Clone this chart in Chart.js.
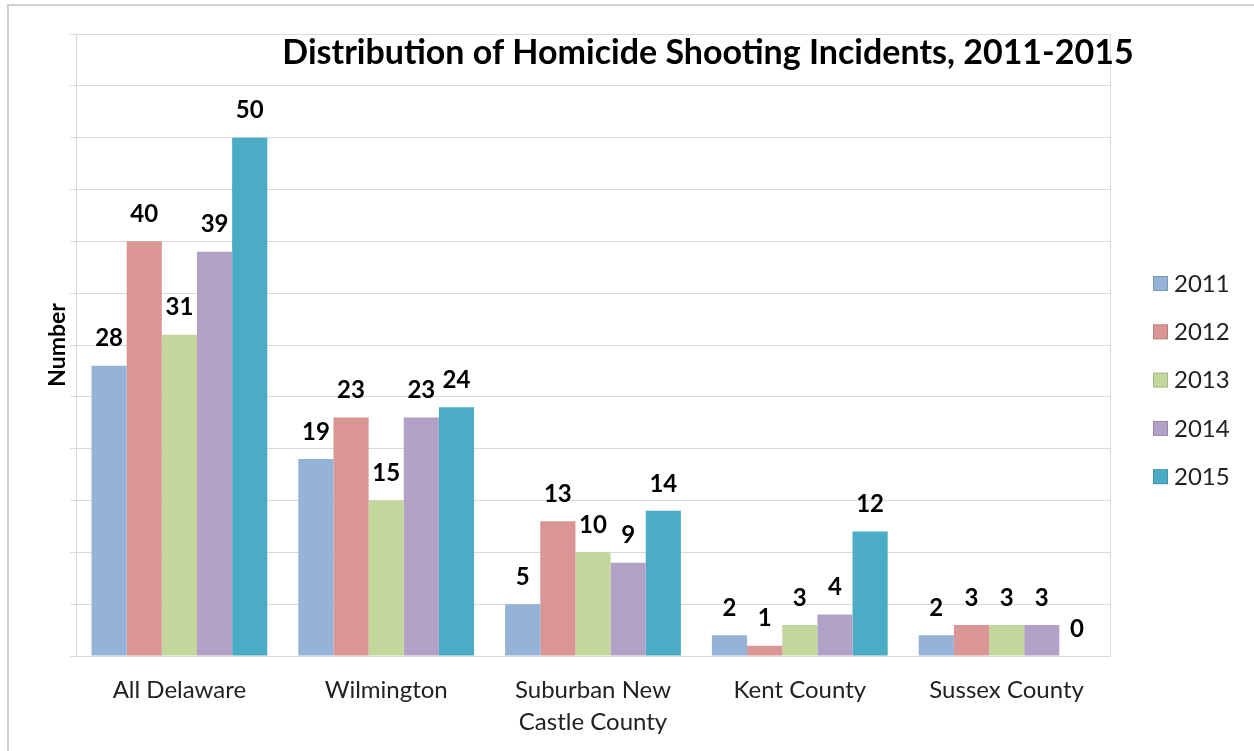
<!DOCTYPE html>
<html lang="en">
<head>
    <meta charset="UTF-8">
    <title>Distribution of Homicide Shooting Incidents, 2011-2015</title>
    <style>
        body {
            margin: 0;
            background: #ffffff;
            font-family: Lato, sans-serif;
        }
        #frame {
            position: absolute;
            left: 7px;
            top: 4px;
            width: 1260px;
            height: 760px;
            border-top: 2px solid #d0d0d0;
            border-left: 2px solid #d0d0d0;
        }
        #wrap {
            position: absolute;
            left: 0;
            top: 0;
            width: 1254px;
            height: 751px;
        }
    </style>
    <script src="https://cdn.jsdelivr.net/npm/chart.js"></script>
</head>
<body>
    <div id="frame"></div>
    <div id="wrap"><canvas id="chart" width="1254" height="751"></canvas></div>

    <script>
        // chart data
        const categories = ['All Delaware', 'Wilmington', ['Suburban New', 'Castle County'], 'Kent County', 'Sussex County'];
        const years = ['2011', '2012', '2013', '2014', '2015'];
        const values2011 = [28, 19, 5, 2, 2];
        const values2012 = [40, 23, 13, 1, 3];
        const values2013 = [31, 15, 10, 3, 3];
        const values2014 = [39, 23, 9, 4, 3];
        const values2015 = [50, 24, 14, 12, 0];
        const colors = ['#95b3d7', '#d99694', '#c3d69b', '#b2a1c7', '#4bacc6'];
        const chartTitle = 'Distribution of Homicide Shooting Incidents, 2011-2015';

        const allValues = [values2011, values2012, values2013, values2014, values2015];

        // value labels above each bar
        const barLabels = {
            id: 'barLabels',
            afterDatasetsDraw(chart) {
                const ctx = chart.ctx;
                ctx.save();
                ctx.font = 'bold 24px Lato';
                ctx.fillStyle = '#000';
                ctx.textAlign = 'center';
                ctx.textBaseline = 'middle';
                chart.data.datasets.forEach((ds, i) => {
                    chart.getDatasetMeta(i).data.forEach((bar, j) => {
                        ctx.fillText(ds.data[j], bar.x, bar.y - 27);
                    });
                });
                ctx.restore();
            }
        };

        // title, plot border and legend
        const extras = {
            id: 'extras',
            afterDraw(chart) {
                const ctx = chart.ctx;
                const a = chart.chartArea;
                ctx.save();
                ctx.strokeStyle = '#d9d9d9';
                ctx.lineWidth = 1;
                ctx.strokeRect(a.left + 0.5, a.top + 0.5, a.right - a.left, a.bottom - a.top);

                ctx.font = 'bold 34px Lato';
                ctx.fillStyle = '#000';
                ctx.textAlign = 'center';
                ctx.textBaseline = 'middle';
                ctx.fillText(chartTitle, 708, 53);

                ctx.font = '24px Lato';
                ctx.textAlign = 'left';
                chart.data.datasets.forEach((ds, i) => {
                    const y = 283 + i * 48.3;
                    ctx.fillStyle = ds.backgroundColor;
                    ctx.fillRect(a.right + 43, y - 7, 15, 15);
                    ctx.strokeStyle = 'rgba(0,0,0,0.15)';
                    ctx.strokeRect(a.right + 43.5, y - 6.5, 14, 14);
                    ctx.fillStyle = '#222';
                    ctx.fillText(ds.label, a.right + 64, y + 1);
                });
                ctx.restore();
            }
        };

        new Chart(document.getElementById('chart'), {
            type: 'bar',
            data: {
                labels: categories,
                datasets: years.map((y, i) => ({
                    label: y,
                    data: allValues[i],
                    backgroundColor: colors[i],
                    barPercentage: 1.0,
                    categoryPercentage: 0.85
                }))
            },
            options: {
                responsive: false,
                animation: false,
                layout: {
                    padding: { top: 34, right: 144, left: 0, bottom: 0 }
                },
                plugins: {
                    legend: { display: false },
                    tooltip: { enabled: false }
                },
                scales: {
                    x: {
                        grid: { display: false, drawTicks: false },
                        border: { display: true, color: '#bfbfbf' },
                        ticks: {
                            color: '#222',
                            font: { family: 'Lato', size: 24, lineHeight: 1.3 },
                            padding: 19,
                            maxRotation: 0
                        },
                        afterFit(scale) { scale.height = 95; }
                    },
                    y: {
                        min: 0,
                        max: 60,
                        ticks: { display: false, stepSize: 5 },
                        grid: { color: '#d9d9d9', tickLength: 6, drawTicks: true },
                        border: { display: true, color: '#bfbfbf' },
                        title: {
                            display: true,
                            text: 'Number',
                            color: '#000',
                            font: { family: 'Lato', size: 23, weight: 'bold' },
                            padding: { top: 44, bottom: 0 }
                        },
                        afterFit(scale) { scale.width = 76; }
                    }
                }
            },
            plugins: [barLabels, extras]
        });
    </script>
</body>
</html>
